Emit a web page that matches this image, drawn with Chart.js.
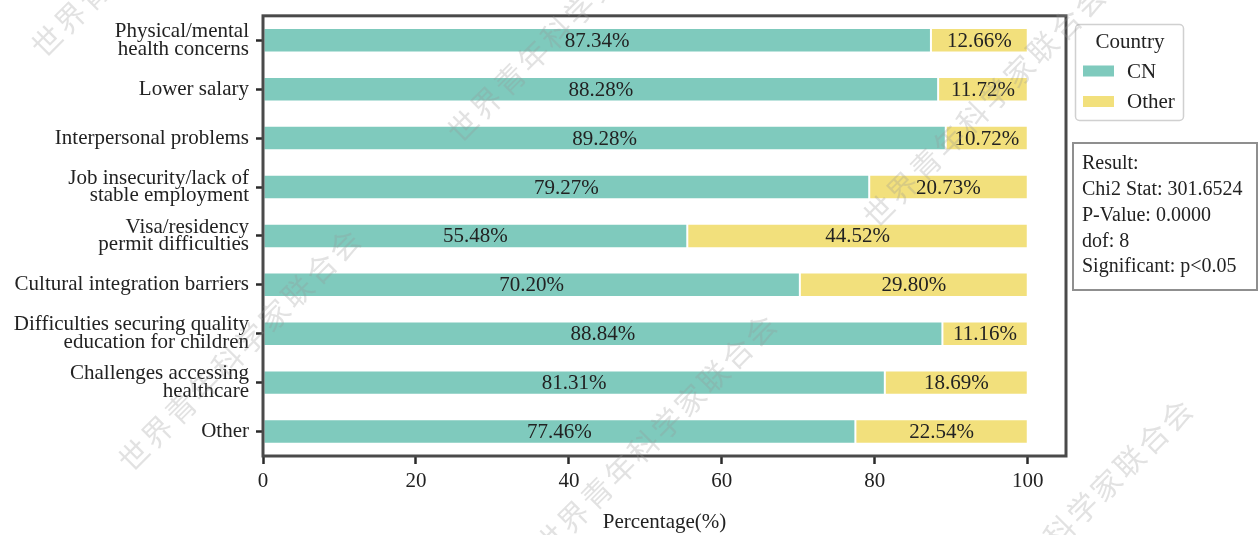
<!DOCTYPE html>
<html>
<head>
<meta charset="utf-8">
<script src="https://cdn.jsdelivr.net/npm/chart.js@4.4.0/dist/chart.umd.min.js"></script>
<style>
  html, body { margin: 0; padding: 0; background: #fff; }
</style>
</head>
<body>
<canvas id="mycanvas" width="1259" height="535"></canvas>
<script>
// problem categories, top to bottom
var categories = [
  ['Physical/mental', 'health concerns'],
  'Lower salary',
  'Interpersonal problems',
  ['Job insecurity/lack of', 'stable employment'],
  ['Visa/residency', 'permit difficulties'],
  'Cultural integration barriers',
  ['Difficulties securing quality', 'education for children'],
  ['Challenges accessing', 'healthcare'],
  'Other'
];
var cnShare    = [87.34, 88.28, 89.28, 79.27, 55.48, 70.20, 88.84, 81.31, 77.46];
var otherShare = [12.66, 11.72, 10.72, 20.73, 44.52, 29.80, 11.16, 18.69, 22.54];
var seriesNames = ['CN', 'Other'];
var xTicks = [0, 20, 40, 60, 80, 100];
var legendTitle = 'Country';
var statLines = ['Result:', 'Chi2 Stat: 301.6524', 'P-Value: 0.0000', 'dof: 8', 'Significant: p<0.05'];
var watermark = '世界青年科学家联合会';

var SERIF = "'Liberation Serif', 'Times New Roman', serif";
var TEAL = 'rgb(127, 202, 189)';
var YELLOW = 'rgb(242, 224, 124)';
var INK = '#222222';

// percentages in the middle of each segment + the axes box
var barLabels = {
  id: 'barLabels',
  afterDatasetsDraw: function(chart) {
    var ctx = chart.ctx;
    ctx.save();
    ctx.font = '21px ' + SERIF;
    ctx.fillStyle = INK;
    ctx.textAlign = 'center';
    ctx.textBaseline = 'middle';
    chart.data.datasets.forEach(function(ds, i) {
      chart.getDatasetMeta(i).data.forEach(function(bar, j) {
        ctx.fillText(ds.data[j].toFixed(2) + '%', (bar.x + bar.base) / 2, bar.y + 1);
      });
    });
    var a = chart.chartArea;
    ctx.strokeStyle = '#4a4a4a';
    ctx.lineWidth = 3;
    ctx.strokeRect(a.left, a.top, a.right - a.left, a.bottom - a.top);
    ctx.restore();
  }
};

// legend box and the test result box on the right
var sideBoxes = {
  id: 'sideBoxes',
  afterDraw: function(chart) {
    var ctx = chart.ctx;
    ctx.save();
    ctx.beginPath();
    ctx.roundRect(1075.5, 24.5, 108, 96, 4);
    ctx.fillStyle = '#fff';
    ctx.fill();
    ctx.strokeStyle = '#d0d0d0';
    ctx.lineWidth = 1.5;
    ctx.stroke();

    ctx.font = '21px ' + SERIF;
    ctx.fillStyle = INK;
    ctx.textBaseline = 'middle';
    ctx.textAlign = 'center';
    ctx.fillText(legendTitle, 1130, 42);
    ctx.textAlign = 'left';
    chart.data.datasets.forEach(function(ds, i) {
      var y = 71 + i * 30.5;
      ctx.fillStyle = ds.backgroundColor;
      ctx.fillRect(1083, y - 5.5, 31, 11);
      ctx.fillStyle = INK;
      ctx.fillText(ds.label, 1127, y + 1);
    });

    ctx.strokeStyle = '#8f8f8f';
    ctx.lineWidth = 2;
    ctx.strokeRect(1073, 143, 184, 147);
    ctx.font = '20px ' + SERIF;
    statLines.forEach(function(line, k) {
      ctx.fillText(line, 1082, 164 + k * 25.8);
    });
    ctx.restore();
  }
};

// faint diagonal watermark text tiled over the figure
var markTiles = {
  id: 'markTiles',
  afterDraw: function(chart) {
    var ctx = chart.ctx;
    var base = [47, 41], u = [416, 85], v = [87, 414];
    var spots = [[0, 0], [0, 1], [1, 0], [1, 1], [2, 0], [2, 1]];
    ctx.save();
    ctx.font = "30px 'Noto Sans CJK SC'";
    ctx.letterSpacing = '3px';
    ctx.fillStyle = 'rgba(150, 150, 150, 0.28)';
    ctx.textAlign = 'left';
    ctx.textBaseline = 'middle';
    spots.forEach(function(s) {
      var cx = base[0] + s[0] * u[0] + s[1] * v[0];
      var cy = base[1] + s[0] * u[1] + s[1] * v[1];
      ctx.save();
      ctx.translate(cx, cy);
      ctx.rotate(-Math.PI / 4);
      ctx.fillText(watermark, -15, 0);
      ctx.restore();
    });
    ctx.restore();
  }
};

var ctx = document.getElementById('mycanvas');
var chart = new Chart(ctx, {
  type: 'bar',
  data: {
    labels: categories,
    datasets: [
      {
        label: seriesNames[0],
        data: cnShare,
        backgroundColor: TEAL,
        borderColor: '#ffffff',
        borderWidth: 1,
        borderSkipped: false,
        barPercentage: 0.5,
        categoryPercentage: 1.0
      },
      {
        label: seriesNames[1],
        data: otherShare,
        backgroundColor: YELLOW,
        borderColor: '#ffffff',
        borderWidth: 1,
        borderSkipped: false,
        barPercentage: 0.5,
        categoryPercentage: 1.0
      }
    ]
  },
  options: {
    indexAxis: 'y',
    responsive: false,
    animation: false,
    devicePixelRatio: 1,
    layout: { padding: { top: 14, right: 193, left: 0, bottom: 0 } },
    plugins: {
      legend: { display: false },
      tooltip: { enabled: false }
    },
    scales: {
      x: {
        type: 'linear',
        stacked: true,
        min: 0,
        max: 105,
        afterBuildTicks: function(scale) {
          scale.ticks = xTicks.map(function(v) { return { value: v }; });
        },
        afterFit: function(scale) { scale.height = 79; },
        border: { display: false },
        grid: {
          drawOnChartArea: false,
          drawTicks: true,
          tickLength: 8,
          tickWidth: 2.5,
          tickColor: '#2a2a2a'
        },
        ticks: {
          font: { family: SERIF, size: 21 },
          color: INK,
          padding: 5,
          maxRotation: 0
        },
        title: {
          display: true,
          text: 'Percentage(%)',
          font: { family: SERIF, size: 21 },
          color: INK,
          padding: { top: 8, bottom: 0 }
        }
      },
      y: {
        type: 'category',
        stacked: true,
        afterFit: function(scale) { scale.width = 263; },
        border: { display: false },
        grid: {
          offset: false,
          drawOnChartArea: false,
          drawTicks: true,
          tickLength: 7,
          tickWidth: 2.5,
          tickColor: '#2a2a2a'
        },
        ticks: {
          font: { family: SERIF, size: 21, lineHeight: 0.84 },
          color: INK,
          padding: 7,
          autoSkip: false
        }
      }
    }
  },
  plugins: [barLabels, sideBoxes, markTiles]
});
</script>
</body>
</html>
